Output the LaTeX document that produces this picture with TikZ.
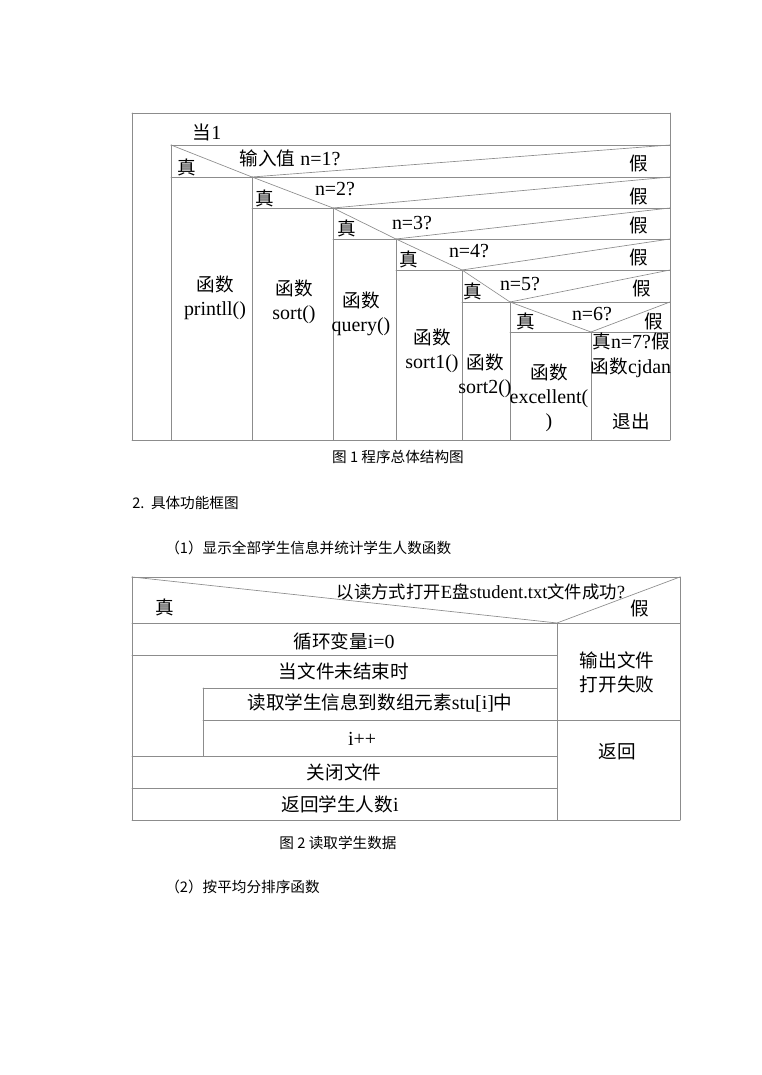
\documentclass[tikz,border=0pt]{standalone}
\usepackage{fontspec}
\setmainfont{Liberation Serif}
\newfontfamily\cjk[Scale=0.933]{Noto Sans CJK SC}
\usepackage{tikz}
\usepackage{tkz-euclide}

\begin{document}
\begin{tikzpicture}[xscale=0.26458, yscale=-0.26458,
    txt/.style={font=\fontsize{15}{18}\selectfont, inner sep=0pt, align=center},
    captxt/.style={font=\cjk\fontsize{11.8}{14}\selectfont, inner sep=0pt}]
      \useasboundingbox (0,0) rectangle (76.1,107.5);

      % 1. 图1 外框
      \tkzDefPoint(13.2,11.3){P_1}
      \tkzDefPoint(67.0,11.3){P_2}
      \tkzDefPoint(67.0,44.0){P_3}
      \tkzDefPoint(13.2,44.0){P_4}

      % 2. 各判断框的顶点 V 与右端点 R
      \tkzDefPoint(17.1,14.5){V_0}
      \tkzDefPoint(25.2,17.7){V_1}
      \tkzDefPoint(33.3,20.8){V_2}
      \tkzDefPoint(39.6,23.9){V_3}
      \tkzDefPoint(46.2,27.0){V_4}
      \tkzDefPoint(51.0,30.2){V_5}
      \tkzDefPoint(59.1,33.2){V_6}
      \tkzDefPoint(67.0,14.5){R_0}
      \tkzDefPoint(67.0,17.7){R_1}
      \tkzDefPoint(67.0,20.8){R_2}
      \tkzDefPoint(67.0,23.9){R_3}
      \tkzDefPoint(67.0,27.0){R_4}
      \tkzDefPoint(67.0,30.2){R_5}
      \tkzDefPoint(67.0,33.2){R_6}

      % 3. 横线左端点 L 与竖线下端点 B
      \tkzDefPoint(17.1,17.7){L_1}
      \tkzDefPoint(25.2,20.8){L_2}
      \tkzDefPoint(33.3,23.9){L_3}
      \tkzDefPoint(39.6,27.0){L_4}
      \tkzDefPoint(46.2,30.2){L_5}
      \tkzDefPoint(51.0,33.2){L_6}
      \tkzDefPoint(17.1,44.0){B_0}
      \tkzDefPoint(25.2,44.0){B_1}
      \tkzDefPoint(33.3,44.0){B_2}
      \tkzDefPoint(39.6,44.0){B_3}
      \tkzDefPoint(46.2,44.0){B_4}
      \tkzDefPoint(51.0,44.0){B_5}
      \tkzDefPoint(59.1,44.0){B_6}

      % 4. 画线
      \tkzDrawSegments[black!45, line width=0.5pt](P_1,P_2 P_2,P_3 P_3,P_4 P_4,P_1)
      \tkzDrawSegments[black!45, line width=0.5pt](V_0,R_0 L_1,R_1 L_2,R_2 L_3,R_3 L_4,R_4 L_5,R_5 L_6,R_6)
      \tkzDrawSegments[black!45, line width=0.5pt](V_0,B_0 V_1,B_1 V_2,B_2 V_3,B_3 V_4,B_4 V_5,B_5 V_6,B_6)
      \tkzDrawSegments[black!45, line width=0.5pt](V_0,V_1 V_1,R_0 V_1,V_2 V_2,R_1 V_2,V_3 V_3,R_2)
      \tkzDrawSegments[black!45, line width=0.5pt](V_3,V_4 V_4,R_3 V_4,V_5 V_5,R_4 V_5,V_6 V_6,R_5)

      % 5. 图1 文字
      \node[txt] (dang) at (20.7,13.2) {{\cjk 当}1};
      \node[txt] (z1) at (18.7,16.7) {\cjk 真};
      \node[txt] (q1) at (29.0,15.8) {{\cjk 输入值} n=1?};
      \node[txt] (j1) at (63.9,16.4) {\cjk 假};
      \node[txt] (z2) at (26.5,19.8) {\cjk 真};
      \node[txt] (q2) at (33.5,18.9) {n=2?};
      \node[txt] (j2) at (63.9,19.6) {\cjk 假};
      \node[txt] (z3) at (34.7,22.8) {\cjk 真};
      \node[txt] (q3) at (41.2,22.3) {n=3?};
      \node[txt] (j3) at (63.9,22.6) {\cjk 假};
      \node[txt] (z4) at (40.9,25.9) {\cjk 真};
      \node[txt] (q4) at (46.9,25.1) {n=4?};
      \node[txt] (j4) at (63.9,25.7) {\cjk 假};
      \node[txt] (z5) at (47.3,29.1) {\cjk 真};
      \node[txt] (q5) at (52.0,28.4) {n=5?};
      \node[txt] (j5) at (64.2,28.8) {\cjk 假};
      \node[txt] (z6) at (52.6,32.1) {\cjk 真};
      \node[txt] (q6) at (59.2,31.4) {n=6?};
      \node[txt] (j6) at (65.4,32.1) {\cjk 假};

      \node[txt] (f1) at (21.5,29.8) {{\cjk 函数}\\printll()};
      \node[txt] (f2) at (29.4,30.2) {{\cjk 函数}\\sort()};
      \node[txt] (f3) at (36.1,31.4) {{\cjk 函数}\\query()};
      \node[txt] (f4) at (43.2,35.1) {{\cjk 函数}\\sort1()};
      \node[txt] (f5) at (48.5,37.6) {{\cjk 函数}\\sort2()};
      \node[txt] (f6) at (54.9,39.8) {{\cjk 函数}\\excellent(\\)};
      \node[txt] (q7) at (63.1,34.1) {{\cjk 真}n=7?{\cjk 假}};
      \node[txt] (f7) at (63.1,36.8) {{\cjk 函数}cjdan};
      \node[txt] (tc) at (63.1,42.1) {\cjk 退出};

      % 6. 标题与正文
      \node[captxt] (cap1) at (39.8,45.7) {图 1 程序总体结构图};
      \node[captxt, anchor=west] (sec) at (13.2,50.3) {2.~~具体功能框图};
      \node[captxt, anchor=west] (sub1) at (16.5,54.8) {（1）显示全部学生信息并统计学生人数函数};
      \node[captxt] (cap2) at (33.8,84.3) {图 2 读取学生数据};
      \node[captxt, anchor=west] (sub2) at (16.5,88.7) {（2）按平均分排序函数};

      % 7. 图2 外框与判断
      \tkzDefPoint(13.2,57.7){Q_1}
      \tkzDefPoint(68.0,57.7){Q_2}
      \tkzDefPoint(68.0,82.0){Q_3}
      \tkzDefPoint(13.2,82.0){Q_4}
      \tkzDefPoint(55.7,62.3){M}
      \tkzDefPoint(13.2,62.3){H_1}
      \tkzDefPoint(68.0,62.3){H_2}
      \tkzDefPoint(55.7,82.0){M_2}

      % 8. 图2 各行
      \tkzDefPoint(13.2,65.5){A_1}
      \tkzDefPoint(55.7,65.5){A_2}
      \tkzDefPoint(20.3,68.8){C_1}
      \tkzDefPoint(55.7,68.8){C_2}
      \tkzDefPoint(20.3,72.0){D_1}
      \tkzDefPoint(68.0,72.0){D_2}
      \tkzDefPoint(13.2,75.6){E_1}
      \tkzDefPoint(20.3,75.6){E_0}
      \tkzDefPoint(55.7,75.6){E_2}
      \tkzDefPoint(13.2,78.8){F_1}
      \tkzDefPoint(55.7,78.8){F_2}

      \tkzDrawSegments[black!45, line width=0.5pt](Q_1,Q_2 Q_2,Q_3 Q_3,Q_4 Q_4,Q_1)
      \tkzDrawSegments[black!45, line width=0.5pt](Q_1,M M,Q_2 H_1,H_2 M,M_2)
      \tkzDrawSegments[black!45, line width=0.5pt](A_1,A_2 C_1,C_2 D_1,D_2 E_1,E_2 F_1,F_2 C_1,E_0)

      % 9. 图2 文字
      \node[txt, font=\fontsize{14}{17}\selectfont] (ask) at (48.1,59.2) {{\cjk 以读方式打开}E{\cjk 盘}student.txt{\cjk 文件成功}?};
      \node[txt] (zz) at (16.5,60.7) {\cjk 真};
      \node[txt] (jj) at (64.0,60.8) {\cjk 假};
      \node[txt] (r1) at (34.4,64.1) {{\cjk 循环变量}i=0};
      \node[txt] (r2) at (34.4,67.1) {\cjk 当文件未结束时};
      \node[txt] (r3) at (38.0,70.3) {{\cjk 读取学生信息到数组元素}stu[i]{\cjk 中}};
      \node[txt] (r4) at (36.2,73.9) {i++};
      \node[txt] (r5) at (34.4,77.2) {\cjk 关闭文件};
      \node[txt] (r6) at (34.0,80.4) {{\cjk 返回学生人数}i};
      \node[txt] (fail) at (61.7,67.2) {{\cjk 输出文件}\\{\cjk 打开失败}};
      \node[txt] (ret) at (61.7,75.2) {\cjk 返回};
\end{tikzpicture}
\end{document}
